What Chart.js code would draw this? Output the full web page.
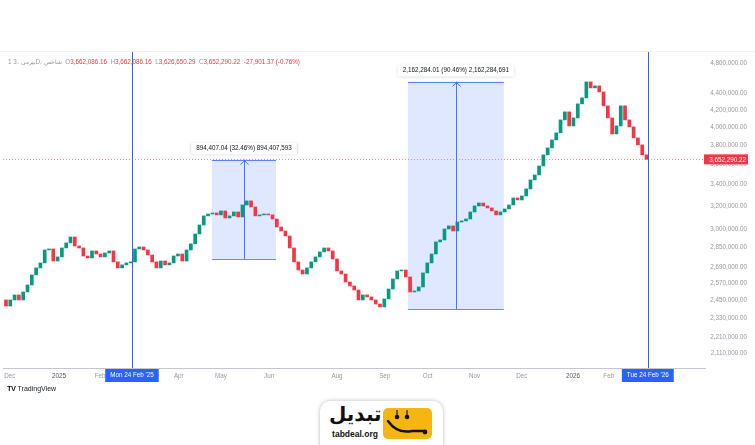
<!DOCTYPE html>
<html>
<head>
<meta charset="utf-8">
<script src="https://cdn.jsdelivr.net/npm/chart.js@4.4.1/dist/chart.umd.min.js"></script>
<style>
  body { margin: 0; background: #fff; width: 755px; height: 445px; overflow: hidden; position: relative; font-family: "Liberation Sans", Arial, sans-serif; }
  #chart { position: absolute; left: 0; top: 0; }
  #tv { position: absolute; left: 7px; top: 384px; font-size: 7px; color: #131722; }
  #tv b { font-size: 7.5px; letter-spacing: -0.5px; margin-right: 2px; }
  #logo { position: absolute; left: 320px; top: 401px; width: 123px; height: 60px; background: #fff; border-radius: 10px; box-shadow: 0 0 4px rgba(0,0,0,0.28); }
  #logo .fa { position: absolute; left: 9px; top: 1px; width: 50px; text-align: center; font-family: "DejaVu Sans", sans-serif; font-size: 20px; font-weight: bold; color: #111; }
  #logo .en { position: absolute; left: 10px; top: 28px; width: 50px; text-align: center; font-size: 8.5px; font-weight: bold; color: #111; }
  #logo svg { position: absolute; left: 63px; top: 7px; }
</style>
</head>
<body>
<canvas id="chart" width="755" height="385"></canvas>
<div id="tv"><b>TV</b>TradingView</div>
<div id="logo">
  <div class="fa">تبدیل</div>
  <div class="en">tabdeal.org</div>
  <svg width="49" height="31" viewBox="0 0 49 31">
    <rect x="0" y="0" width="49" height="31" rx="5" fill="#f6b612"/>
    <line x1="14" y1="2" x2="14" y2="8" stroke="#111" stroke-width="1.2"/>
    <line x1="24" y1="2" x2="24" y2="8" stroke="#111" stroke-width="1.2"/>
    <circle cx="14" cy="9" r="2.3" fill="#111"/>
    <circle cx="24" cy="9" r="2.3" fill="#111"/>
    <path d="M5 13 Q14 26 29 23 L41 23" fill="none" stroke="#111" stroke-width="2.4" stroke-linecap="round"/>
    <circle cx="42" cy="24" r="2.4" fill="#111"/>
  </svg>
</div>
<script>
// 3D candles, closes (open = previous close)
const firstOpen = 2453000;
const closes = [
  2411000, 2453000, 2488000, 2453000, 2509000, 2559000, 2633000, 2686000, 2724000, 2826000,
  2834000, 2739000, 2771000, 2842000, 2883000, 2932000, 2858000, 2842000, 2778000, 2763000,
  2818000, 2794000, 2771000, 2802000, 2818000, 2732000, 2686000, 2709000, 2724000, 2732000,
  2834000, 2850000, 2826000, 2786000, 2732000, 2686000, 2739000, 2709000, 2724000, 2778000,
  2794000, 2739000, 2826000, 2875000, 2957000, 3033000, 3112000, 3129000, 3138000, 3121000,
  3156000, 3094000, 3112000, 3147000, 3103000, 3210000, 3247000, 3192000, 3112000, 3121000,
  3129000, 3121000, 3085000, 3016000, 2982000, 2940000, 2842000, 2732000, 2670000, 2640000,
  2686000, 2732000, 2771000, 2810000, 2842000, 2818000, 2755000, 2663000, 2640000, 2581000,
  2552000, 2523000, 2453000, 2488000, 2474000, 2453000, 2425000, 2405000, 2460000, 2530000,
  2603000, 2663000, 2670000, 2618000, 2509000, 2516000, 2545000, 2648000, 2724000, 2794000,
  2891000, 2907000, 2999000, 3025000, 2982000, 3059000, 3068000, 3085000, 3147000, 3201000,
  3228000, 3201000, 3183000, 3156000, 3121000, 3147000, 3174000, 3210000, 3274000, 3256000,
  3293000, 3359000, 3446000, 3495000, 3585000, 3699000, 3773000, 3859000, 3937000, 4084000,
  4178000, 4015000, 4107000, 4274000, 4347000, 4548000, 4472000, 4497000, 4421000, 4250000,
  4107000, 3925000, 4015000, 4250000, 4084000, 4004000, 3881000, 3805000, 3699000, 3652290.22
];

const xTickPos = [0.9, 12.3, 21.9, 40.2, 50, 61.2, 77, 88.1, 98.1, 109, 120, 131.9, 140.2];
const xTickLabels = ['Dec', '2025', 'Feb', 'Apr', 'May', 'Jun', 'Aug', 'Sep', 'Oct', 'Nov', 'Dec', '2026', 'Feb'];
const yTicks = [4800000, 4400000, 4200000, 4000000, 3800000, 3600000, 3400000, 3200000,
  3000000, 2850000, 2690000, 2570000, 2450000, 2330000, 2210000, 2110000];

const markerPos = [29.3, 149.3];
const markerLabels = ["Mon 24 Feb '25", "Tue 24 Feb '26"];

const rangeFrom = [47.9, 93.5];
const rangeTo = [62.8, 115.8];
const rangeLow = [2755000, 2390320];
const rangeHigh = [3649407, 4552604];
const rangeText = ['894,407.04 (32.46%) 894,407,593', '2,162,284.01 (90.46%) 2,162,284,691'];

const lastPrice = 3652290.22;
const titleText = '1 بیرمی ،3D، شاخص';
const ohlcLetters = ['O', 'H', 'L', 'C'];
const ohlcValues = ['3,662,086.16', '3,662,086.16', '3,626,650.29', '3,652,290.22'];
const changeText = '-27,901.37 (-0.76%)';

const UP = '#089981', DOWN = '#f23645', BLUE = '#2962ff';
const FONT = '6.3px "Liberation Sans", Arial, sans-serif';

const opens = closes.map((c, i) => i === 0 ? firstOpen : closes[i - 1]);
const candles = closes.map((c, i) => ({ x: i, y: [opens[i], c] }));
const colors = closes.map((c, i) => c >= opens[i] ? UP : DOWN);

const fmt = v => v.toLocaleString('en-US', { minimumFractionDigits: 2, maximumFractionDigits: 2 });

const overlay = {
  id: 'overlay',
  beforeDatasetsDraw(chart) {
    const { ctx, scales: { x, y } } = chart;
    ctx.save();
    for (let k = 0; k < rangeFrom.length; k++) {
      const x0 = x.getPixelForValue(rangeFrom[k]), x1 = x.getPixelForValue(rangeTo[k]);
      const yT = y.getPixelForValue(rangeHigh[k]), yB = y.getPixelForValue(rangeLow[k]);
      ctx.fillStyle = 'rgba(41,98,255,0.15)';
      ctx.fillRect(x0, yT, x1 - x0, yB - yT);
      ctx.strokeStyle = 'rgba(41,98,255,0.75)';
      ctx.lineWidth = 1;
      ctx.beginPath();
      ctx.moveTo(x0, Math.round(yB) + 0.5); ctx.lineTo(x1, Math.round(yB) + 0.5);
      ctx.moveTo(x0, Math.round(yT) + 0.5); ctx.lineTo(x1, Math.round(yT) + 0.5);
      ctx.stroke();
    }
    ctx.restore();
  },
  afterDatasetsDraw(chart) {
    const { ctx, chartArea: a, scales: { x, y } } = chart;
    ctx.save();
    // last price line
    const py = Math.round(y.getPixelForValue(lastPrice)) + 0.5;
    ctx.strokeStyle = 'rgba(242,54,69,0.55)';
    ctx.setLineDash([1, 2]);
    ctx.beginPath(); ctx.moveTo(a.left, py); ctx.lineTo(a.right, py); ctx.stroke();
    ctx.setLineDash([]);

    // range arrows and labels
    ctx.font = FONT;
    for (let k = 0; k < rangeFrom.length; k++) {
      const x0 = x.getPixelForValue(rangeFrom[k]), x1 = x.getPixelForValue(rangeTo[k]);
      const xm = Math.round((x0 + x1) / 2) + 0.5;
      const yT = y.getPixelForValue(rangeHigh[k]), yB = y.getPixelForValue(rangeLow[k]);
      ctx.strokeStyle = 'rgba(41,98,255,0.85)';
      ctx.beginPath();
      ctx.moveTo(xm, yB); ctx.lineTo(xm, yT);
      ctx.moveTo(xm - 4, yT + 5); ctx.lineTo(xm, yT + 1); ctx.lineTo(xm + 4, yT + 5);
      ctx.stroke();
      const w = ctx.measureText(rangeText[k]).width + 10;
      ctx.shadowColor = 'rgba(0,0,0,0.22)';
      ctx.shadowBlur = 3;
      ctx.fillStyle = '#fff';
      ctx.fillRect((x0 + x1) / 2 - w / 2, yT - 17, w, 12);
      ctx.shadowBlur = 0; ctx.shadowColor = 'transparent';
      ctx.fillStyle = '#131722';
      ctx.textAlign = 'center'; ctx.textBaseline = 'middle';
      ctx.fillText(rangeText[k], (x0 + x1) / 2, yT - 11);
    }

    // date markers
    ctx.strokeStyle = BLUE;
    for (const m of markerPos) {
      const mx = Math.round(x.getPixelForValue(m)) + 0.5;
      ctx.beginPath(); ctx.moveTo(mx, a.top); ctx.lineTo(mx, a.bottom); ctx.stroke();
    }
    ctx.restore();
  },
  afterDraw(chart) {
    const { ctx, chartArea: a, scales: { x, y } } = chart;
    ctx.save();
    ctx.font = FONT;
    ctx.textBaseline = 'middle';

    // faint frame line on top
    ctx.strokeStyle = '#eef0f3';
    ctx.beginPath(); ctx.moveTo(0, a.top - 0.5); ctx.lineTo(755, a.top - 0.5); ctx.stroke();

    // date marker labels
    markerPos.forEach((m, k) => {
      const mx = x.getPixelForValue(m);
      const w = ctx.measureText(markerLabels[k]).width + 10;
      ctx.fillStyle = BLUE;
      ctx.fillRect(mx - w / 2, a.bottom + 1, w, 13);
      ctx.fillStyle = '#fff';
      ctx.textAlign = 'center';
      ctx.fillText(markerLabels[k], mx, a.bottom + 7.5);
    });

    // last price label
    const py = y.getPixelForValue(lastPrice);
    ctx.fillStyle = DOWN;
    ctx.fillRect(a.right - 1, py - 5, 44, 10);
    ctx.fillStyle = '#fff';
    ctx.textAlign = 'right';
    ctx.fillText(fmt(lastPrice), a.right + 41, py + 0.5);

    // header line
    let hx = 8;
    const hy = 62;
    const put = (t, c) => {
      ctx.fillStyle = c; ctx.textAlign = 'left';
      ctx.fillText(t, hx, hy);
      hx += ctx.measureText(t).width;
    };
    put(titleText + '  ', '#9598a1');
    ohlcLetters.forEach((l, k) => {
      put(l, '#9598a1');
      put(ohlcValues[k] + '  ', DOWN);
    });
    put(changeText, DOWN);
    ctx.restore();
  }
};

new Chart(document.getElementById('chart'), {
  type: 'bar',
  data: {
    datasets: [{
      data: candles,
      backgroundColor: colors,
      borderWidth: 0,
      barThickness: 3
    }]
  },
  options: {
    responsive: false,
    animation: false,
    layout: { padding: { left: 3, top: 52, right: 8, bottom: 0 } },
    plugins: { legend: { display: false }, tooltip: { enabled: false } },
    scales: {
      x: {
        type: 'linear',
        min: -0.7,
        max: 162.6,
        offset: false,
        grid: { display: false, drawTicks: false },
        border: { display: true, color: '#c3c6ce' },
        afterBuildTicks: s => { s.ticks = xTickPos.map(v => ({ value: v })); },
        afterFit: s => { s.height = 17; },
        ticks: {
          autoSkip: false,
          maxRotation: 0,
          padding: 4,
          font: { size: 6.3, family: '"Liberation Sans", Arial, sans-serif' },
          color: c => /^\d{4}$/.test(xTickLabels[c.index]) ? '#50535e' : '#9598a1',
          callback: (v, i) => xTickLabels[i]
        }
      },
      y: {
        type: 'logarithmic',
        position: 'right',
        min: 2023000,
        max: 4950000,
        grid: { display: false, drawTicks: false },
        border: { display: false },
        afterBuildTicks: s => { s.ticks = yTicks.map(v => ({ value: v })); },
        afterFit: s => { s.width = 42; },
        ticks: {
          crossAlign: 'far',
          padding: 5,
          font: { size: 6.3, family: '"Liberation Sans", Arial, sans-serif' },
          color: '#9598a1',
          callback: v => fmt(v)
        }
      }
    }
  },
  plugins: [overlay]
});
</script>
</body>
</html>
